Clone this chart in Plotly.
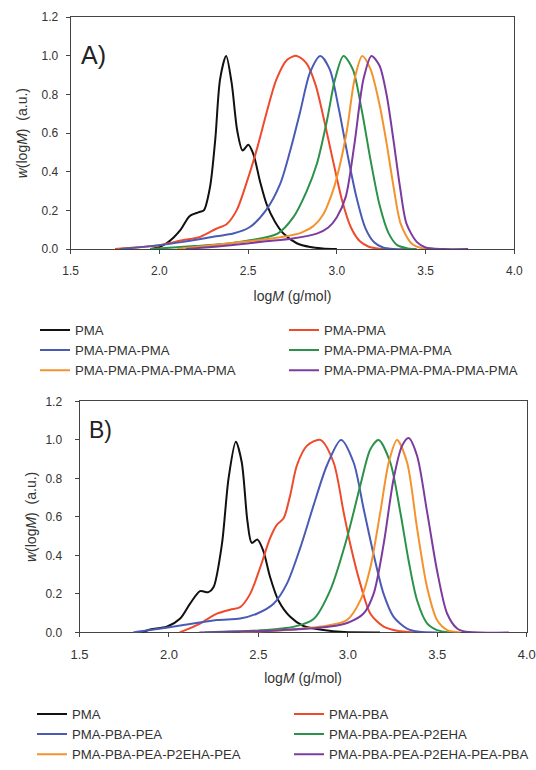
import plotly.graph_objects as go

W, H = 536, 770

series_names_a = ["PMA", "PMA-PMA", "PMA-PMA-PMA", "PMA-PMA-PMA-PMA",
                  "PMA-PMA-PMA-PMA-PMA", "PMA-PMA-PMA-PMA-PMA-PMA"]
series_names_b = ["PMA", "PMA-PBA", "PMA-PBA-PEA", "PMA-PBA-PEA-P2EHA",
                  "PMA-PBA-PEA-P2EHA-PEA", "PMA-PBA-PEA-P2EHA-PEA-PBA"]
colors = ["#111111", "#ef4a2c", "#4a5bb6", "#2c9249", "#f4922e", "#7c3c9f"]

x_ticks = [1.5, 2.0, 2.5, 3.0, 3.5, 4.0]
y_ticks = [0.0, 0.2, 0.4, 0.6, 0.8, 1.0, 1.2]

# ---------------- Panel A data (log M, w(log M)) ----------------
a_black_x = [1.95, 2.00, 2.04, 2.08, 2.12, 2.17, 2.22, 2.25, 2.285, 2.315, 2.342, 2.376,
             2.407, 2.439, 2.469, 2.501, 2.530, 2.567, 2.605, 2.652, 2.699, 2.774, 2.85, 2.92, 3.0]
a_black_y = [0.0, 0.01, 0.03, 0.06, 0.10, 0.17, 0.19, 0.20, 0.32, 0.57, 0.88, 1.0,
             0.86, 0.61, 0.51, 0.54, 0.49, 0.35, 0.23, 0.14, 0.08, 0.03, 0.01, 0.003, 0.0]

a_red_x = [1.75, 1.90, 2.00, 2.13, 2.23, 2.32, 2.38, 2.435, 2.49, 2.55, 2.605, 2.66,
           2.72, 2.774, 2.83, 2.88, 2.93, 2.98, 3.03, 3.08, 3.13, 3.18, 3.24, 3.3]
a_red_y = [0.0, 0.01, 0.02, 0.045, 0.063, 0.105, 0.13, 0.20, 0.34, 0.52, 0.71, 0.88,
           0.98, 1.0, 0.96, 0.85, 0.66, 0.45, 0.25, 0.11, 0.04, 0.012, 0.002, 0.0]

a_blue_x = [1.78, 1.95, 2.135, 2.32, 2.416, 2.51, 2.60, 2.68, 2.736, 2.793, 2.849, 2.907,
            2.96, 3.01, 3.06, 3.11, 3.16, 3.21, 3.26, 3.32, 3.4]
a_blue_y = [0.0, 0.015, 0.037, 0.066, 0.08, 0.114, 0.2, 0.336, 0.506, 0.71, 0.915, 1.0,
            0.93, 0.73, 0.49, 0.27, 0.11, 0.035, 0.008, 0.0, 0.0]

a_green_x = [1.95, 2.2, 2.4, 2.51, 2.666, 2.755, 2.83, 2.887, 2.943, 2.99, 3.037,
             3.09, 3.14, 3.19, 3.24, 3.29, 3.34, 3.40, 3.45]
a_green_y = [0.0, 0.015, 0.03, 0.045, 0.08, 0.165, 0.30, 0.44, 0.66, 0.88, 1.0,
             0.93, 0.72, 0.46, 0.23, 0.085, 0.02, 0.003, 0.0]

a_orange_x = [2.1, 2.4, 2.6, 2.699, 2.80, 2.87, 2.924, 2.97, 3.00, 3.056, 3.10, 3.143,
              3.19, 3.24, 3.28, 3.32, 3.36, 3.42, 3.48, 3.55]
a_orange_y = [0.0, 0.03, 0.05, 0.063, 0.085, 0.12, 0.18, 0.28, 0.37, 0.61, 0.88, 1.0,
              0.93, 0.75, 0.55, 0.32, 0.13, 0.03, 0.004, 0.0]

a_purple_x = [2.15, 2.4, 2.6, 2.75, 2.887, 2.95, 3.00, 3.05, 3.10, 3.15, 3.195,
              3.24, 3.28, 3.318, 3.356, 3.393, 3.45, 3.50, 3.6, 3.74]
a_purple_y = [0.0, 0.02, 0.04, 0.055, 0.08, 0.11, 0.165, 0.27, 0.55, 0.88, 1.0,
              0.95, 0.80, 0.57, 0.32, 0.13, 0.037, 0.008, 0.0, 0.0]

# ---------------- Panel B data ----------------
b_black_x = [1.85, 1.895, 1.988, 2.063, 2.118, 2.174, 2.221, 2.249, 2.296, 2.333, 2.374,
             2.407, 2.439, 2.463, 2.495, 2.528, 2.566, 2.612, 2.678, 2.752, 2.864, 2.98, 3.18]
b_black_y = [0.0, 0.015, 0.029, 0.072, 0.149, 0.214, 0.209, 0.234, 0.457, 0.798, 0.99,
             0.884, 0.576, 0.465, 0.482, 0.422, 0.286, 0.166, 0.081, 0.033, 0.012, 0.002, 0.0]

b_red_x = [2.06, 2.174, 2.268, 2.342, 2.398, 2.454, 2.51, 2.566, 2.603, 2.641, 2.678, 2.715,
           2.771, 2.846, 2.92, 2.976, 3.014, 3.07, 3.126, 3.2, 3.275, 3.37]
b_red_y = [0.0, 0.046, 0.097, 0.118, 0.131, 0.2, 0.337, 0.491, 0.559, 0.593, 0.713, 0.867,
           0.969, 1.0, 0.884, 0.627, 0.457, 0.252, 0.097, 0.03, 0.009, 0.0]

b_blue_x = [1.80, 1.895, 2.081, 2.268, 2.398, 2.491, 2.585, 2.659, 2.734, 2.809, 2.883, 2.962,
            3.032, 3.088, 3.144, 3.2, 3.256, 3.331, 3.4, 3.5]
b_blue_y = [0.0, 0.012, 0.038, 0.064, 0.072, 0.097, 0.149, 0.252, 0.439, 0.661, 0.867, 1.0,
            0.884, 0.644, 0.406, 0.2, 0.081, 0.02, 0.003, 0.0]

b_green_x = [2.2, 2.5, 2.7, 2.809, 2.902, 2.995, 3.07, 3.126, 3.172, 3.237, 3.293, 3.34,
             3.387, 3.443, 3.499, 3.57]
b_green_y = [0.0, 0.01, 0.03, 0.07, 0.22, 0.49, 0.764, 0.952, 1.0, 0.884, 0.627, 0.372,
             0.167, 0.047, 0.012, 0.0]

b_orange_x = [2.40, 2.7, 2.85, 2.995, 3.07, 3.126, 3.182, 3.229, 3.275, 3.331, 3.387,
              3.443, 3.499, 3.555, 3.63]
b_orange_y = [0.0, 0.015, 0.03, 0.064, 0.166, 0.337, 0.627, 0.884, 1.0, 0.884, 0.542,
              0.235, 0.064, 0.012, 0.0]

b_purple_x = [2.17, 2.6, 2.9, 3.0, 3.088, 3.144, 3.2, 3.256, 3.303, 3.34, 3.387, 3.443,
              3.499, 3.555, 3.611, 3.66, 3.9]
b_purple_y = [0.0, 0.01, 0.03, 0.05, 0.098, 0.2, 0.457, 0.798, 0.969, 1.01, 0.918, 0.627,
              0.32, 0.098, 0.02, 0.003, 0.0]

panel_a = [(a_black_x, a_black_y), (a_red_x, a_red_y), (a_blue_x, a_blue_y),
           (a_green_x, a_green_y), (a_orange_x, a_orange_y), (a_purple_x, a_purple_y)]
panel_b = [(b_black_x, b_black_y), (b_red_x, b_red_y), (b_blue_x, b_blue_y),
           (b_green_x, b_green_y), (b_orange_x, b_orange_y), (b_purple_x, b_purple_y)]

fig = go.Figure()
for (xs, ys), name, col in zip(panel_a, series_names_a, colors):
    fig.add_trace(go.Scatter(x=xs, y=ys, mode="lines", name=name,
                             line=dict(color=col, width=2, shape="spline", smoothing=0.8),
                             xaxis="x", yaxis="y", legend="legend"))
for i, ((xs, ys), name, col) in enumerate(zip(panel_b, series_names_b, colors)):
    fig.add_trace(go.Scatter(x=xs, y=ys, mode="lines", name=name,
                             line=dict(color=col, width=2, shape="spline", smoothing=0.8),
                             xaxis="x2", yaxis="y2",
                             legend="legend2" if i % 2 == 0 else "legend3"))


def px_x(p):
    return p / W


def px_y(p):
    return 1 - p / H


axis_common = dict(showline=True, mirror=True, linecolor="#444", linewidth=1,
                   ticks="outside", ticklen=4, tickcolor="#444", showgrid=False,
                   zeroline=False, layer="below traces", automargin=False)

xtitle_a = dict(text="log<i>M</i> (g/mol)", font=dict(size=14, color="#333"), standoff=13)
xtitle_b = dict(text="log<i>M</i> (g/mol)", font=dict(size=14, color="#333"), standoff=12)
ytitle_a = dict(text="<i>w</i>(log<i>M</i>)  (a.u.)", font=dict(size=14, color="#333"), standoff=10)
ytitle_b = dict(text="<i>w</i>(log<i>M</i>)  (a.u.)", font=dict(size=14, color="#333"), standoff=5)

legend_font = dict(size=13.2, color="#333")

fig.update_layout(
    width=W, height=H,
    margin=dict(l=0, r=0, t=0, b=0),
    paper_bgcolor="white", plot_bgcolor="white",
    font=dict(family="Liberation Sans, Arial, sans-serif", color="#333"),
    xaxis=dict(domain=[px_x(70.7), px_x(514.3)], range=[1.5, 4.0], tickvals=x_ticks,
               tickformat=".1f", anchor="y", title=xtitle_a, ticklabelstandoff=7,
               tickfont=dict(size=12, color="#333"), **axis_common),
    yaxis=dict(domain=[px_y(252.3), px_y(17.5)], range=[0, 1.2], tickvals=y_ticks,
               tickformat=".1f", anchor="x", title=ytitle_a, ticklabelstandoff=5,
               tickfont=dict(size=12, color="#333"), **axis_common),
    xaxis2=dict(domain=[px_x(79.5), px_x(526.7)], range=[1.5, 4.0], tickvals=x_ticks,
                tickformat=".1f", anchor="y2", title=xtitle_b, ticklabelstandoff=6,
                tickfont=dict(size=13, color="#333"), **axis_common),
    yaxis2=dict(domain=[px_y(640.7), px_y(406.7)], range=[0, 1.2], tickvals=y_ticks,
                tickformat=".1f", anchor="x2", title=ytitle_b, ticklabelstandoff=10,
                tickfont=dict(size=12, color="#333"), **axis_common),
    legend=dict(orientation="h", x=px_x(35), y=px_y(319), xanchor="left", yanchor="top",
                entrywidth=204, entrywidthmode="pixels", itemwidth=30,
                font=legend_font, bgcolor="rgba(0,0,0,0)"),
    legend2=dict(orientation="v", x=px_x(32), y=px_y(708), xanchor="left", yanchor="top",
                 itemwidth=30, font=legend_font, bgcolor="rgba(0,0,0,0)"),
    legend3=dict(orientation="v", x=px_x(289), y=px_y(708), xanchor="left", yanchor="top",
                 itemwidth=30, font=legend_font, bgcolor="rgba(0,0,0,0)"),
    annotations=[
        dict(text="A)", x=px_x(79), y=px_y(56), xref="paper", yref="paper",
             xanchor="left", yanchor="middle", showarrow=False,
             font=dict(size=25, color="#222")),
        dict(text="B)", x=px_x(87), y=px_y(436), xref="paper", yref="paper",
             xanchor="left", yanchor="middle", showarrow=False,
             font=dict(size=23, color="#222")),
    ],
)

fig.write_html("out.html",
               config={"displayModeBar": False},
               post_script="document.body.style.margin='0';document.body.style.overflow='hidden';")
